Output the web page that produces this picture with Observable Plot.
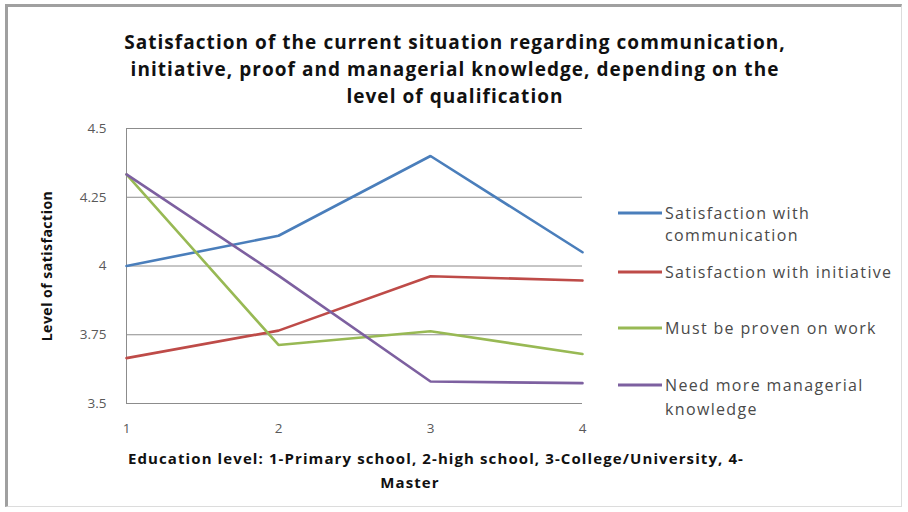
<!DOCTYPE html>
<html>
<head>
<meta charset="utf-8">
<script src="https://cdn.jsdelivr.net/npm/d3@7"></script>
<script src="https://cdn.jsdelivr.net/npm/@observablehq/plot@0.6"></script>
<style>
  html, body { margin: 0; padding: 0; background: #fff; }
  #wrap { position: relative; width: 908px; height: 512px; overflow: hidden; font-family: "Open Sans", sans-serif; }
  #frame { position: absolute; left: 5px; top: 4px; width: 897px; height: 503px;
           border-top: 3px solid #a0a0a0; border-left: 3px solid #a0a0a0;
           border-right: 1px solid #dcdcdc; border-bottom: 1px solid #dcdcdc; box-sizing: border-box; }
  .t { position: absolute; white-space: nowrap; line-height: 1; transform: translate(-50%, -50%); }
  .title { font-weight: 700; font-size: 19px; letter-spacing: 1.05px; color: #111; }
  .xt { font-weight: 700; font-size: 15px; letter-spacing: 1.1px; color: #111; }
  .yt { font-weight: 700; font-size: 14px; letter-spacing: 0.5px; color: #111; transform: translate(-50%, -50%) rotate(-90deg); }
  .lg { position: absolute; white-space: nowrap; line-height: 1; transform: translateY(-50%); font-size: 16px; letter-spacing: 1.35px; color: #4a4a4a; }
  .sw { position: absolute; height: 3px; width: 44px; transform: translateY(-50%); }
  svg { position: absolute; left: 0; top: 0; }
</style>
</head>
<body>
<div id="wrap"><div id="frame"></div></div>
<script>
// ---- data ----
const levels = [1, 2, 3, 4];
const seriesNames = [
  "Satisfaction with communication",
  "Satisfaction with initiative",
  "Must be proven on work",
  "Need more managerial knowledge"
];
const communication = [4.00, 4.11, 4.40, 4.05];
const initiative = [3.665, 3.765, 3.963, 3.947];
const proven = [4.333, 3.713, 3.763, 3.68];
const managerial = [4.333, 3.965, 3.58, 3.574];
const yTicks = [3.5, 3.75, 4, 4.25, 4.5];
const colors = ["#4a7ebb", "#be4b48", "#98b954", "#7d60a0"];
const legendLines = [
  ["Satisfaction with", "communication"],
  ["Satisfaction with initiative"],
  ["Must be proven on work"],
  ["Need more managerial", "knowledge"]
];
const titleLines = [
  "Satisfaction of the current situation regarding communication,",
  "initiative, proof and managerial knowledge, depending on the",
  "level of qualification"
];
const xTitleLines = [
  "Education level: 1-Primary school, 2-high school, 3-College/University, 4-",
  "Master"
];
const yTitle = "Level of satisfaction";

// ---- table ----
const valueSets = [communication, initiative, proven, managerial];
const data = [];
valueSets.forEach((vals, s) => levels.forEach((lv, i) => data.push({series: seriesNames[s], level: lv, value: vals[i]})));

const chart = Plot.plot({
  width: 908,
  height: 512,
  marginLeft: 126,
  marginRight: 326,
  marginTop: 128,
  marginBottom: 109,
  style: {fontFamily: "'Open Sans', sans-serif", fontSize: "13.5px", background: "transparent"},
  x: {domain: [1, 4]},
  y: {domain: [3.5, 4.5]},
  color: {domain: seriesNames, range: colors},
  marks: [
    Plot.ruleY(yTicks, {stroke: "#8c8c8c", strokeWidth: 1}),
    Plot.ruleX([1], {stroke: "#8c8c8c", strokeWidth: 1}),
    Plot.axisX({ticks: levels, tickFormat: d => String(d), tickSize: 0, tickPadding: 20, label: null, color: "#595959"}),
    Plot.axisY({ticks: yTicks, tickFormat: d => String(d), tickSize: 0, tickPadding: 20, label: null, color: "#595959"}),
    Plot.line(data, {x: "level", y: "value", z: "series", stroke: "series", strokeWidth: 2.6, strokeLinejoin: "miter"})
  ]
});
const wrap = document.getElementById("wrap");
wrap.appendChild(chart);

function addText(cls, text, x, y) {
  const d = document.createElement("div");
  d.className = cls;
  d.textContent = text;
  d.style.left = x + "px";
  d.style.top = y + "px";
  wrap.appendChild(d);
  return d;
}
// title
[42, 69, 96].forEach((y, i) => addText("t title", titleLines[i], 455, y));
// x title
addText("t xt", xTitleLines[0], 436, 458);
addText("t xt", xTitleLines[1], 410, 482);
// y title
addText("t yt", yTitle, 47, 266);
// legend
const legendY = [[213, 235], [272], [328], [385, 409]];
legendLines.forEach((lines, i) => {
  const sw = document.createElement("div");
  sw.className = "sw";
  sw.style.left = "618px";
  sw.style.top = legendY[i][0] + "px";
  sw.style.background = colors[i];
  wrap.appendChild(sw);
  lines.forEach((ln, j) => {
    const d = document.createElement("div");
    d.className = "lg";
    d.textContent = ln;
    d.style.left = "665px";
    d.style.top = legendY[i][j] + "px";
    wrap.appendChild(d);
  });
});
</script>
</body>
</html>
